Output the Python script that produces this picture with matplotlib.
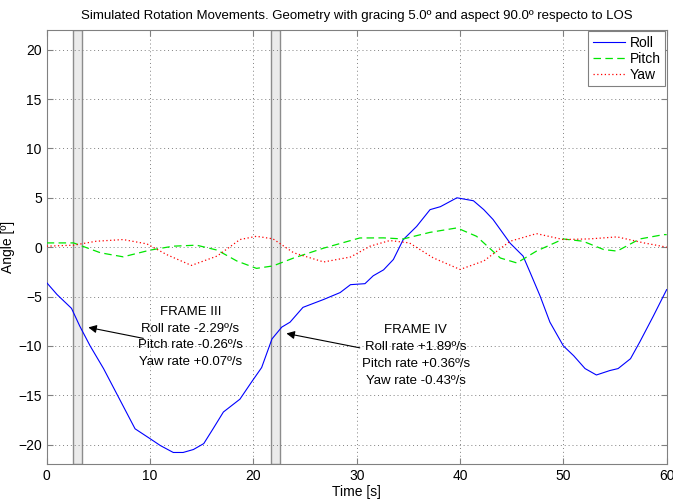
import matplotlib
matplotlib.use("Agg")
import matplotlib.pyplot as plt

plt.rcParams["font.family"] = ["Liberation Sans", "DejaVu Sans"]

# sampled attitude angles [deg] over time [s]
roll_t = [0, 1.0, 1.8, 2.4, 3.2, 4.2, 5.5, 6.8, 8.55, 10, 11, 12.25, 13.2, 14.2,
          15.2, 16.1, 17.1, 18.7, 19.8, 20.8, 21.8, 22.75, 23.55, 24.8, 26.8,
          28.4, 29.4, 30.8, 31.6, 32.6, 33.55, 34.5, 35.8, 37.1, 38.1, 39.7,
          41.3, 42.3, 43.2, 44.85, 46.1, 46.8, 47.75, 48.7, 50, 51, 52.1, 53.2,
          54.5, 55.3, 56.5, 57.4, 58.7, 60]
roll = [-3.6, -4.8, -5.6, -6.2, -8.0, -10.0, -12.3, -14.9, -18.4, -19.4, -20.1,
        -20.8, -20.8, -20.5, -19.9, -18.4, -16.7, -15.4, -13.7, -12.2, -9.3,
        -8.1, -7.6, -6.1, -5.3, -4.6, -3.8, -3.7, -2.9, -2.3, -1.25, 0.76, 2.1,
        3.8, 4.1, 5.0, 4.7, 3.8, 2.8, 0.4, -0.9, -2.6, -4.95, -7.6, -10.0,
        -11.0, -12.3, -12.95, -12.5, -12.3, -11.3, -9.6, -7.0, -4.3]

pitch_t = [0, 2.6, 5.2, 7.4, 10, 12.25, 14.5, 16.5, 18.4, 20.3, 21.9, 23.9,
           26.8, 30.3, 32.6, 34.5, 37.1, 39.7, 41.6, 43.9, 45.5, 47.4, 50,
           51.9, 53.9, 55.2, 57.4, 59.7, 60]
pitch = [0.43, 0.43, -0.57, -0.98, -0.3, 0.1, 0.2, -0.3, -1.4, -2.15, -1.9,
         -1.1, -0.1, 0.93, 0.94, 0.83, 1.5, 1.95, 1.1, -1.1, -1.6, -0.4, 0.83,
         0.6, -0.24, -0.4, 0.83, 1.27, 1.27]

yaw_t = [0, 2.6, 4.8, 7.4, 9.7, 11.6, 14.0, 16.5, 18.7, 20.3, 21.9, 23.9, 26.8,
         29.4, 31.3, 33.2, 35.1, 37.4, 40, 42.3, 44.85, 47.4, 50, 52.6, 55.2,
         57.8, 60]
yaw = [0.1, 0.2, 0.6, 0.77, 0.33, -0.75, -1.85, -0.9, 0.77, 1.1, 0.84, -0.57,
       -1.5, -1.0, 0.1, 0.67, 0.43, -1.08, -2.26, -1.4, 0.6, 1.37, 0.77, 0.84,
       1.04, 0.43, 0.0]

# acquisition frames (start, end) [s]
frames = [(2.5, 3.4), (21.7, 22.6)]
frame_labels = [
    "FRAME III\nRoll rate -2.29º/s\nPitch rate -0.26º/s\nYaw rate +0.07º/s",
    "FRAME IV\nRoll rate +1.89º/s\nPitch rate +0.36º/s\nYaw rate -0.43º/s",
]
label_pos = [(13.9, -9.1), (35.7, -11.0)]
arrow_tail = [(9.35, -9.24), (30.3, -10.2)]
arrow_head = [(4.03, -8.13), (23.2, -8.74)]

fig = plt.figure(figsize=(6.73, 4.99), dpi=100)
ax = fig.add_axes([0.0694, 0.0695, 0.9212, 0.8704])

for (a, b) in frames:
    ax.axvspan(a, b, facecolor="#ebebeb", edgecolor="#8c8c8c", lw=1.0, zorder=1)

ax.plot(roll_t, roll, color="#0000ff", lw=0.8, label="Roll", zorder=3)
ax.plot(pitch_t, pitch, color="#00e600", lw=0.9, ls=(0, (6, 3.5)), label="Pitch", zorder=3)
ax.plot(yaw_t, yaw, color="#ff0000", lw=0.9, ls=(0, (1, 2)), label="Yaw", zorder=3)

for txt, pos, tail, head in zip(frame_labels, label_pos, arrow_tail, arrow_head):
    ax.text(pos[0], pos[1], txt, ha="center", va="center", multialignment="center",
            fontsize=9.5, linespacing=1.55, zorder=4)
    ax.annotate("", xy=head, xytext=tail,
                arrowprops=dict(arrowstyle="-|>", color="black", lw=0.8,
                                mutation_scale=12, shrinkA=0, shrinkB=0),
                zorder=4)

ax.set_xlim(0, 60)
ax.set_ylim(-22, 22)
ax.set_xticks(range(0, 61, 10))
ax.set_yticks(range(-20, 21, 5))
ax.grid(True, ls=(0, (1, 3)), color="#808080", lw=0.7)
ax.tick_params(direction="in", top=True, right=True, length=4, labelsize=10,
               color="#808080")
for s in ax.spines.values():
    s.set_color("#808080")

ax.set_xlabel("Time [s]", fontsize=10, labelpad=1)
ax.set_ylabel("Angle [º]", fontsize=10, labelpad=2)
ax.set_title("Simulated Rotation Movements. Geometry with gracing 5.0º and aspect 90.0º respecto to LOS",
             fontsize=9.5, pad=8)

leg = ax.legend(loc="upper right", fontsize=10, fancybox=False, framealpha=1,
                edgecolor="#808080", borderaxespad=0.1, handlelength=2.3,
                labelspacing=0.15, borderpad=0.3, handletextpad=0.4)
leg.get_frame().set_linewidth(0.8)

fig.savefig("out.png", dpi=100)
